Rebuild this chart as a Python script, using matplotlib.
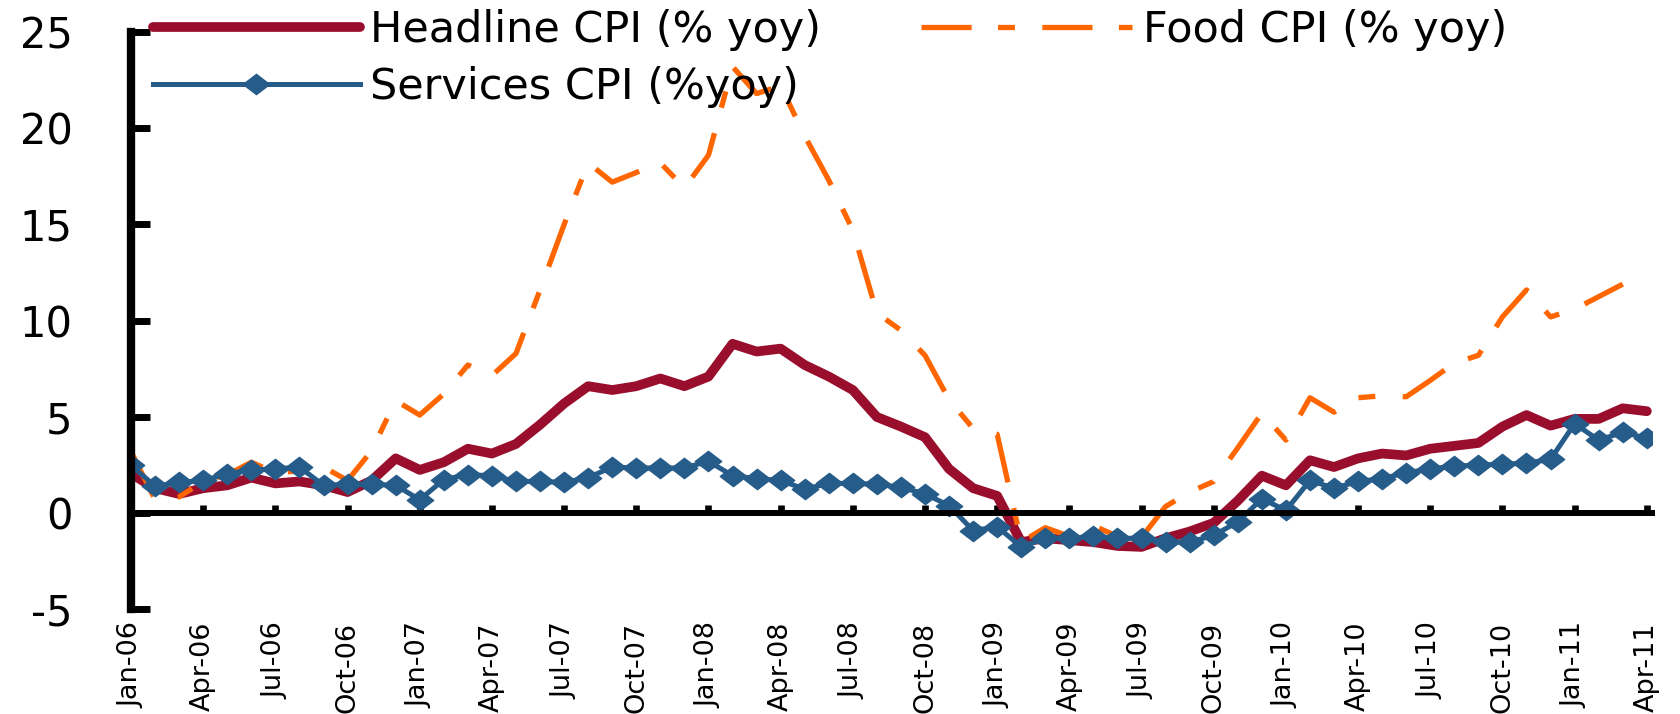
import numpy as np
import matplotlib
matplotlib.use("Agg")
import matplotlib.pyplot as plt
from matplotlib.path import Path

plt.rcParams['font.family'] = 'DejaVu Sans'
plt.rcParams['axes.unicode_minus'] = False

# monthly series, Jan-06 .. Apr-11
headline = [2.05, 1.3, 1.0, 1.3, 1.45, 1.85, 1.55, 1.65, 1.45, 1.1, 1.7, 2.85,
            2.25, 2.65, 3.35, 3.1, 3.6, 4.6, 5.7, 6.6, 6.4, 6.6, 7.0, 6.6,
            7.1, 8.8, 8.4, 8.55, 7.7, 7.1, 6.4, 5.0, 4.5, 3.95, 2.3, 1.3,
            0.9, -1.5, -1.3, -1.4, -1.5, -1.7, -1.75, -1.3, -0.95, -0.5, 0.65, 1.95,
            1.45, 2.75, 2.4, 2.85, 3.1, 3.0, 3.35, 3.5, 3.65, 4.5, 5.1, 4.55,
            4.9, 4.9, 5.45, 5.3]
food = [3.2, 0.7, 0.85, 1.65, 2.0, 2.65, 2.1, 2.2, 2.4, 1.7, 3.25, 5.85,
        5.1, 6.2, 7.7, 7.15, 8.3, 11.6, 15.0, 18.2, 17.2, 17.7, 18.2, 16.9,
        18.6, 23.2, 21.8, 22.2, 19.6, 17.3, 14.7, 10.4, 9.5, 8.2, 5.9, 4.4,
        4.1, -1.5, -0.75, -1.2, -0.65, -1.2, -1.25, 0.35, 1.1, 1.65, 3.4, 5.2,
        3.8, 6.0, 5.25, 6.0, 6.1, 6.05, 6.9, 7.8, 8.2, 10.2, 11.6, 10.2,
        10.6, 11.25, 11.9, np.nan]
services = [2.5, 1.4, 1.6, 1.7, 2.05, 2.25, 2.3, 2.4, 1.45, 1.5, 1.5, 1.45,
            0.7, 1.75, 2.0, 1.95, 1.65, 1.65, 1.6, 1.85, 2.4, 2.35, 2.35, 2.35,
            2.7, 1.95, 1.8, 1.7, 1.25, 1.55, 1.55, 1.5, 1.35, 1.0, 0.4, -0.9,
            -0.7, -1.75, -1.3, -1.3, -1.2, -1.3, -1.3, -1.5, -1.5, -1.15, -0.45, 0.75,
            0.15, 1.7, 1.3, 1.65, 1.8, 2.1, 2.3, 2.45, 2.5, 2.55, 2.6, 2.8,
            4.65, 3.8, 4.2, 3.9]

tick_labels = ['Jan-06', 'Apr-06', 'Jul-06', 'Oct-06', 'Jan-07', 'Apr-07', 'Jul-07', 'Oct-07',
               'Jan-08', 'Apr-08', 'Jul-08', 'Oct-08', 'Jan-09', 'Apr-09', 'Jul-09', 'Oct-09',
               'Jan-10', 'Apr-10', 'Jul-10', 'Oct-10', 'Jan-11', 'Apr-11']

RED = '#990E2D'
ORANGE = '#FF6600'
BLUE = '#265C8A'

x = np.arange(len(headline))
tick_pos = np.arange(0, len(headline), 3)

fig = plt.figure(figsize=(16.8, 7.14), dpi=100)
ax = fig.add_axes([0.078, 0.1464, 0.9831 - 0.078, 0.9552 - 0.1464])

# flattened diamond marker
diamond = Path([(-1.3, 0), (0, 1), (1.3, 0), (0, -1), (-1.3, 0)],
               [Path.MOVETO, Path.LINETO, Path.LINETO, Path.LINETO, Path.CLOSEPOLY])

h_line, = ax.plot(x, headline, color=RED, lw=7, solid_capstyle='round',
                  solid_joinstyle='round', label='Headline CPI (% yoy)')
f_line, = ax.plot(x, food, color=ORANGE, lw=3.8, ls=(0, (9.5, 5, 3.2, 5.2)),
                  label='Food CPI (% yoy)')
s_line, = ax.plot(x, services, color=BLUE, lw=3.6, marker=diamond, ms=19,
                  label='Services CPI (%yoy)')

ax.set_xlim(0, 63.2)
ax.set_ylim(-5, 25)
ax.set_yticks([-5, 0, 5, 10, 15, 20, 25])

ax.spines['top'].set_visible(False)
ax.spines['right'].set_visible(False)
ax.spines['left'].set_linewidth(6)
ax.spines['bottom'].set_position(('data', 0))
ax.spines['bottom'].set_linewidth(4.3)

ax.tick_params(axis='y', direction='in', length=13.7, width=5, labelsize=30, pad=42)
ax.set_xticks(tick_pos)
ax.tick_params(axis='x', direction='in', length=6, width=4.8, labelbottom=False)

# date labels sit below the plot area
sec = ax.secondary_xaxis('bottom')
sec.set_xticks(tick_pos, tick_labels)
sec.tick_params(length=0, pad=9, labelsize=19.5, labelrotation=90)
sec.spines['bottom'].set_visible(False)

fs = 31
fig.legend(handles=[h_line, s_line], loc='upper left', bbox_to_anchor=(153 / 1680, 0.987),
           frameon=False, fontsize=fs, handlelength=4.8, handletextpad=0.25,
           labelspacing=0.35, borderpad=0, borderaxespad=0)
fig.legend(handles=[f_line], loc='upper left', bbox_to_anchor=(921 / 1680, 0.987),
           frameon=False, fontsize=fs, handlelength=4.9, handletextpad=0.25,
           borderpad=0, borderaxespad=0)

fig.savefig('out.png', dpi=100)
